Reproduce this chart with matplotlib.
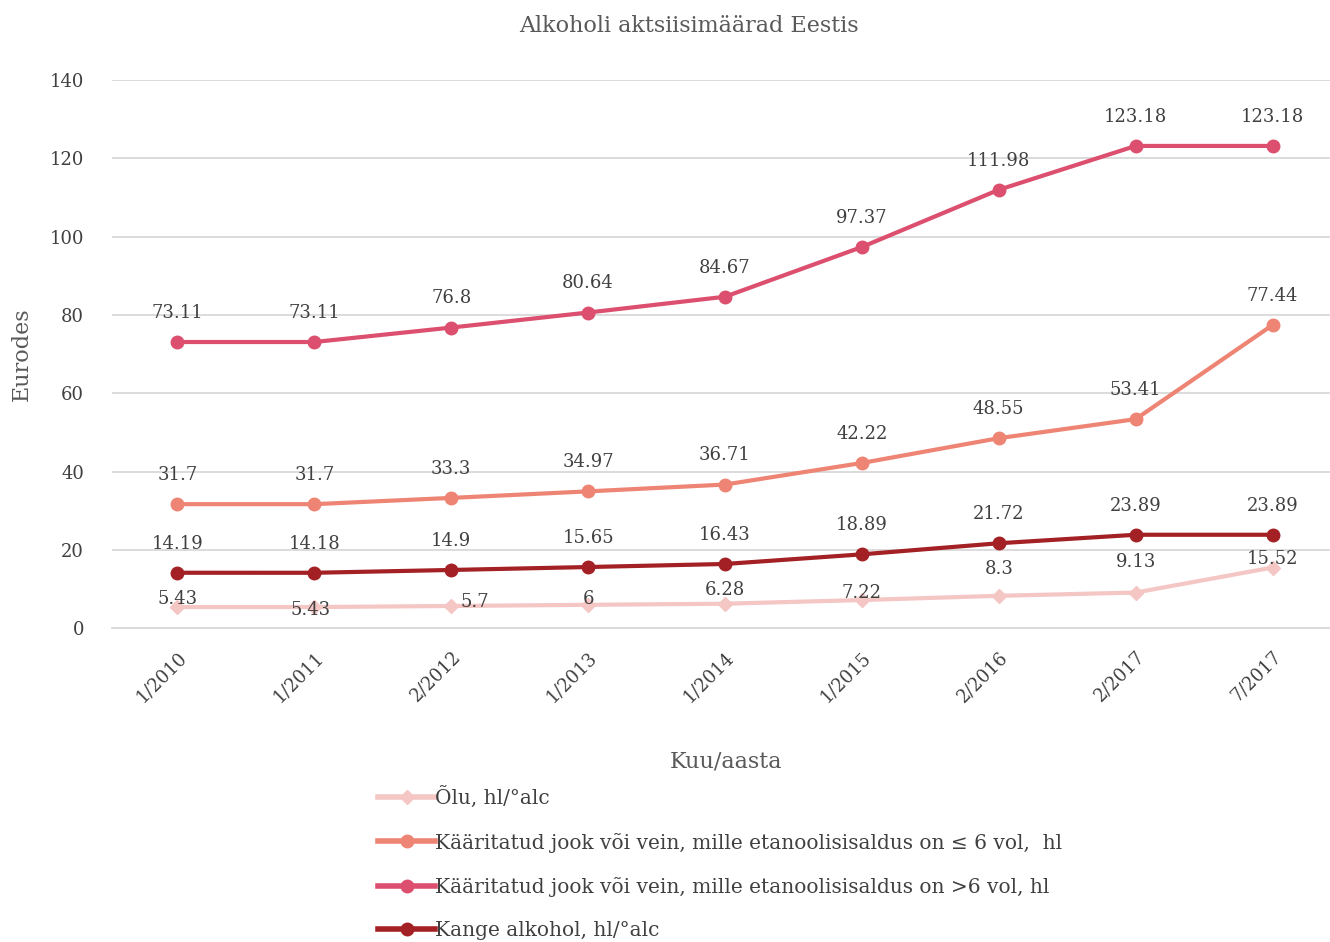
import matplotlib.pyplot as plt
from matplotlib.lines import Line2D

plt.rcParams['font.family'] = ['DejaVu Serif']

periods = ["1/2010", "1/2011", "2/2012", "1/2013", "1/2014", "1/2015", "2/2016", "2/2017", "7/2017"]
olu = [5.43, 5.43, 5.7, 6, 6.28, 7.22, 8.3, 9.13, 15.52]
vein_le6 = [31.7, 31.7, 33.3, 34.97, 36.71, 42.22, 48.55, 53.41, 77.44]
vein_gt6 = [73.11, 73.11, 76.8, 80.64, 84.67, 97.37, 111.98, 123.18, 123.18]
kange = [14.19, 14.18, 14.9, 15.65, 16.43, 18.89, 21.72, 23.89, 23.89]

names = ["Õlu, hl/°alc",
         "Kääritatud jook või vein, mille etanoolisisaldus on ≤ 6 vol,  hl",
         "Kääritatud jook või vein, mille etanoolisisaldus on >6 vol, hl",
         "Kange alkohol, hl/°alc"]
colors = ["#F4C6C4", "#EE8474", "#DC4F6E", "#A32024"]

# Excel-style label placement for the beer series (points)
olu_offsets = [(0, 6), (-3, -2), (17, 3), (0, 4), (0, 10), (0, 5), (0, 19), (0, 22), (0, 6)]

fig = plt.figure(figsize=(13.3, 9.42), dpi=100)
ax = fig.add_axes([0.084, 0.333, 0.916, 0.582])

x = list(range(len(periods)))
ax.plot(x, olu, color=colors[0], lw=3, marker="D", ms=7, zorder=3)
ax.plot(x, vein_le6, color=colors[1], lw=3, marker="o", ms=9, zorder=3)
ax.plot(x, vein_gt6, color=colors[2], lw=3, marker="o", ms=9, zorder=3)
ax.plot(x, kange, color=colors[3], lw=3, marker="o", ms=9, zorder=3)

lbl = dict(fontsize=13, color="#404040", ha="center", va="center")
for i in x:
    ax.annotate(f"{vein_gt6[i]:g}", (i, vein_gt6[i]), xytext=(0, 21), textcoords="offset points", **lbl)
    ax.annotate(f"{vein_le6[i]:g}", (i, vein_le6[i]), xytext=(0, 21), textcoords="offset points", **lbl)
    ax.annotate(f"{kange[i]:g}", (i, kange[i]), xytext=(0, 21), textcoords="offset points", **lbl)
    dx, dy = olu_offsets[i]
    ax.annotate(f"{olu[i]:g}", (i, olu[i]), xytext=(dx, dy), textcoords="offset points", **lbl)

ax.set_xlim(-0.48, 8.42)
ax.set_ylim(0, 140)
ax.set_yticks(range(0, 141, 20))
ax.set_xticks(x)
ax.set_xticklabels(periods, rotation=45, ha="right", rotation_mode="anchor")
ax.tick_params(axis="both", length=0, labelsize=13, labelcolor="#404040")
ax.tick_params(axis="x", pad=14)
ax.tick_params(axis="y", pad=20)
ax.grid(axis="y", color="#D9D9D9", lw=1.3)
for s in ["top", "right", "left"]:
    ax.spines[s].set_visible(False)
ax.spines["bottom"].set_color("#D9D9D9")
ax.spines["bottom"].set_linewidth(1.3)
ax.set_axisbelow(True)

fig.text(0.518, 0.972, "Alkoholi aktsiisimäärad Eestis", fontsize=16, color="#595959", ha="center", va="center")
ax.set_ylabel("Eurodes", fontsize=16, color="#595959", labelpad=12)
fig.text(0.546, 0.192, "Kuu/aasta", fontsize=16, color="#595959", ha="center", va="center")

handles = [
    Line2D([], [], color=colors[0], lw=4, marker="D", ms=7),
    Line2D([], [], color=colors[1], lw=4, marker="o", ms=9),
    Line2D([], [], color=colors[2], lw=4, marker="o", ms=9),
    Line2D([], [], color=colors[3], lw=4, marker="o", ms=9),
]
fig.legend(handles, names, loc="upper left", bbox_to_anchor=(0.277, 0.176),
           frameon=False, fontsize=14.5, labelcolor="#404040", handlelength=2.8,
           handletextpad=0.0, labelspacing=1.2, borderpad=0)

fig.savefig("out.png", dpi=100)
